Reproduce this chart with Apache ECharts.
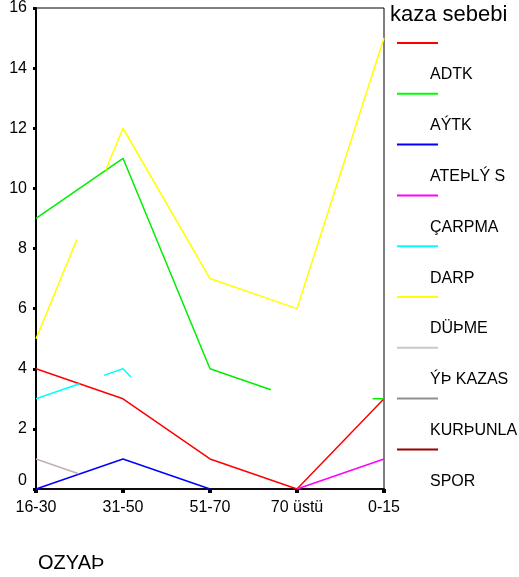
<!DOCTYPE html>
<html>
<head>
<meta charset="utf-8">
<script src="https://cdn.jsdelivr.net/npm/echarts@6/dist/echarts.min.js"></script>
<style>
html,body{margin:0;padding:0;background:#fff;}
#chart{width:519px;height:577px;}
</style>
</head>
<body>
<div id="chart"></div>
<script>
// x categories (positions 0..4 on a value axis so partially drawn segments can be reproduced)
const categories = ['16-30', '31-50', '51-70', '70 üstü', '0-15'];
const yTicks = [0, 2, 4, 6, 8, 10, 12, 14, 16];

// legend
const legendTitle = 'kaza sebebi';
const legendLabels = ['ADTK', 'AÝTK', 'ATEÞLÝ S', 'ÇARPMA', 'DARP', 'DÜÞME', 'ÝÞ KAZAS', 'KURÞUNLA', 'SPOR'];
const legendColors = ['#ff0000', '#00ff00', '#0000ff', '#ff00ff', '#00ffff', '#ffff00', '#c8c8c8', '#909090', '#990000'];

// series values: [category position, count]; null = break in the drawn line
const sRed     = [[0, 4], [1, 3], [2, 1], [3, 0], [4, 3]];
const sGreen   = [[0, 9], [1, 11], [2, 4], [2.7, 3.3], null, [3.87, 3], [4, 3]];
const sBlue    = [[0, 0], [1, 1], [2, 0]];
const sMagenta = [[3, 0], [4, 1]];
const sCyan    = [[0, 3], [0.5, 3.5], null, [0.78, 3.78], [1, 4], [1.09, 3.73]];
const sYellow  = [[0, 5], [0.47, 8.3], null, [0.8, 10.6], [1, 12], [2, 7], [3, 6], [4, 15]];
const sGray    = [[0, 1], [0.49, 0.51]];

const xTitle = 'OZYAÞ';

const seriesData = [sRed, sGreen, sBlue, sMagenta, sCyan, sYellow, sGray];
const seriesColors = ['#ff0000', '#00ee00', '#0000ff', '#ff00ff', '#00ffff', '#ffff00', '#c0b0b0'];

const font = 'Liberation Sans, Arial, sans-serif';

const chart = echarts.init(document.getElementById('chart'), null, {renderer: 'canvas'});

const graphics = [];
graphics.push({
  type: 'text', left: 390, top: 4,
  style: {text: legendTitle, font: '22px ' + font, fill: '#000'}
});
legendLabels.forEach((lab, i) => {
  const y = 43 + i * 50.8;
  graphics.push({
    type: 'line', shape: {x1: 397, y1: y, x2: 438, y2: y},
    style: {stroke: legendColors[i], lineWidth: 2}
  });
  graphics.push({
    type: 'text', x: 430, y: y + 32,
    style: {text: lab, font: '16px ' + font, fill: '#000', verticalAlign: 'middle', align: 'left'}
  });
});

chart.setOption({
  animation: false,
  backgroundColor: '#fff',
  title: {
    text: xTitle, left: 33, top: 548,
    textStyle: {fontFamily: font, fontSize: 20, fontWeight: 'normal', color: '#000'}
  },
  grid: {
    left: 36, top: 7, right: 135, bottom: 88,
    show: true, borderColor: '#000', borderWidth: 1, backgroundColor: 'transparent'
  },
  xAxis: {
    type: 'value', min: 0, max: 4, interval: 1,
    splitLine: {show: false},
    axisLine: {show: true, lineStyle: {color: '#140a14', width: 2}},
    axisTick: {show: true, length: 4, lineStyle: {color: '#000', width: 4}},
    axisLabel: {
      margin: 11, color: '#000', fontFamily: font, fontSize: 16,
      formatter: v => categories[v]
    }
  },
  yAxis: {
    type: 'value', min: yTicks[0], max: yTicks[yTicks.length - 1], interval: yTicks[1] - yTicks[0],
    splitLine: {show: false},
    axisLine: {show: true, lineStyle: {color: '#000', width: 2}},
    axisTick: {show: true, length: 3, lineStyle: {color: '#000', width: 3}},
    axisLabel: {margin: 9, color: '#000', fontFamily: font, fontSize: 16, verticalAlignMinLabel: 'bottom'}
  },
  series: seriesData.map((d, i) => ({
    type: 'line', data: d, symbol: 'none', connectNulls: false,
    lineStyle: {color: seriesColors[i], width: 1.5},
    itemStyle: {color: seriesColors[i]},
    z: 3
  })),
  graphic: graphics
});
</script>
</body>
</html>
